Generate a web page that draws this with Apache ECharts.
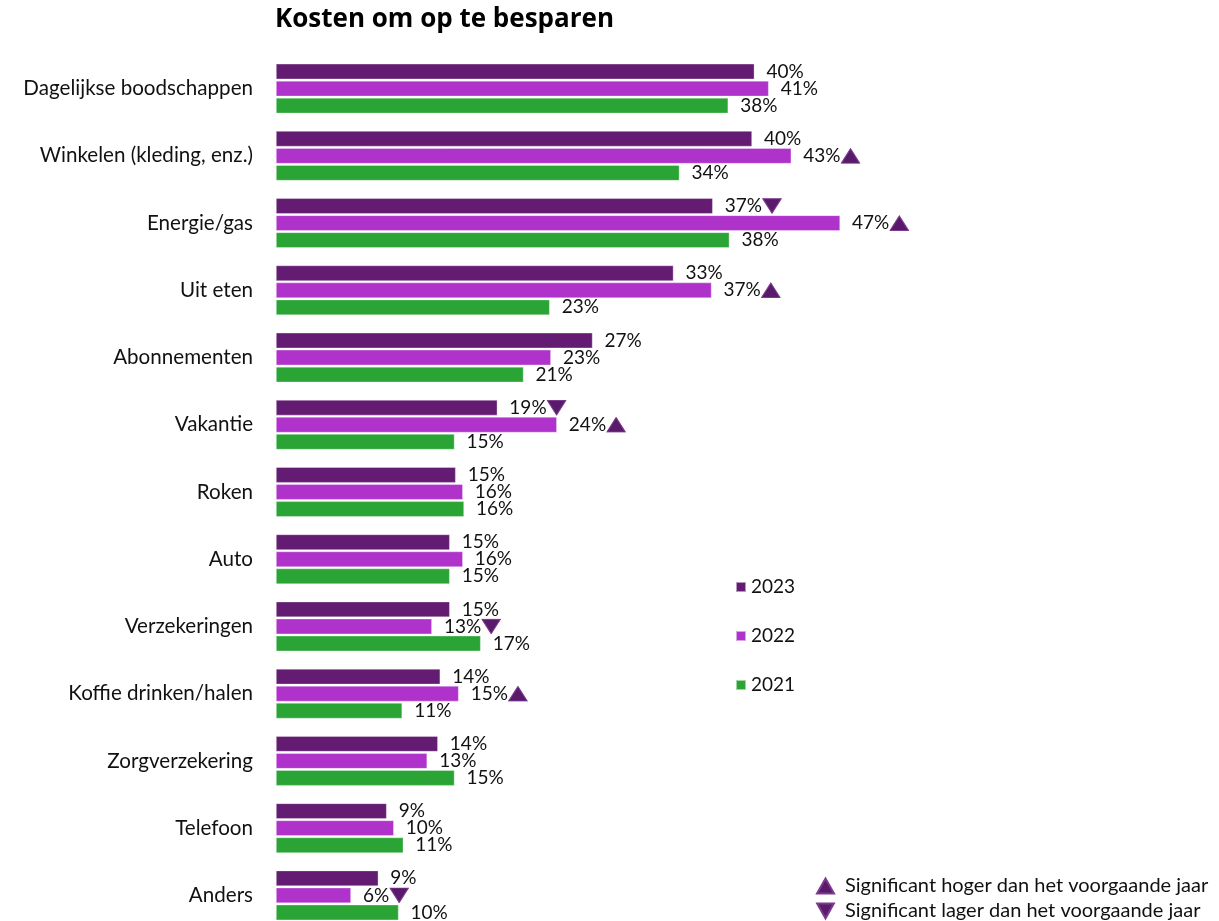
<!DOCTYPE html>
<html>
<head>
<meta charset="utf-8">
<script src="https://cdn.jsdelivr.net/npm/echarts@6/dist/echarts.min.js"></script>
<style>html,body{margin:0;padding:0;background:#fff;overflow:hidden}#c{width:1219px;height:940px}</style>
</head>
<body>
<div id="c"></div>
<script>
const categories = ['Dagelijkse boodschappen','Winkelen (kleding, enz.)','Energie/gas','Uit eten','Abonnementen','Vakantie','Roken','Auto','Verzekeringen','Koffie drinken/halen','Zorgverzekering','Telefoon','Anders'];
const years = ['2023','2022','2021'];
const values2023 = [40.2, 40.0, 36.7, 33.4, 26.6, 18.6, 15.1, 14.6, 14.6, 13.8, 13.6, 9.3, 8.6];
const values2022 = [41.4, 43.3, 47.4, 36.6, 23.1, 23.6, 15.7, 15.7, 13.1, 15.35, 12.7, 9.9, 6.3];
const values2021 = [38.0, 33.9, 38.1, 23.0, 20.8, 15.0, 15.8, 14.6, 17.2, 10.6, 15.0, 10.7, 10.3];
// significance vs previous year: 'up', 'down' or ''
const sig2023 = ['', '', 'down', '', '', 'down', '', '', '', '', '', '', ''];
const sig2022 = ['', 'up', 'up', 'up', '', 'up', '', '', 'down', 'up', '', '', 'down'];
const sig2021 = ['', '', '', '', '', '', '', '', '', '', '', '', ''];
const sigLabels = ['Significant hoger dan het voorgaande jaar', 'Significant lager dan het voorgaande jaar'];

const colors = ['#631C71', '#AF33CB', '#2AA535'];
const markColor = '#5A1A6B';
const svgUp = 'data:image/svg+xml;charset=utf-8,' + encodeURIComponent('<svg xmlns="http://www.w3.org/2000/svg" width="18" height="16"><polygon points="9,0.8 17.3,15.3 0.7,15.3" fill="#5A1A6B" stroke="#7B3A8C" stroke-width="1"/></svg>');
const svgDown = 'data:image/svg+xml;charset=utf-8,' + encodeURIComponent('<svg xmlns="http://www.w3.org/2000/svg" width="18" height="16"><polygon points="0.7,0.7 17.3,0.7 9,15.2" fill="#5A1A6B" stroke="#7B3A8C" stroke-width="1"/></svg>');

const FONT = 'Lato, "Open Sans", sans-serif';

function makeSeries(name, vals, sig, color) {
  return {
    name: name,
    type: 'bar',
    barWidth: 15.5,
    barGap: '10%',
    itemStyle: { color: color, borderColor: 'rgba(255,255,255,0.55)', borderWidth: 0.6 },
    data: vals,
    label: {
      show: true,
      position: 'right',
      distance: 12,
      formatter: p => {
        const s = sig[p.dataIndex];
        const t = '{v|' + Math.round(p.value) + '%}';
        if (s === 'up') return t + '{u| }';
        if (s === 'down') return t + '{d| }';
        return t;
      },
      rich: {
        v: { fontFamily: FONT, fontSize: 19, color: '#111' },
        u: { width: 18, height: 16, padding: [0, 0, 0, 2], backgroundColor: { image: svgUp } },
        d: { width: 18, height: 16, padding: [0, 0, 0, 2], backgroundColor: { image: svgDown } }
      }
    }
  };
}

const chart = echarts.init(document.getElementById('c'), null, { renderer: 'canvas' });
chart.setOption({
  backgroundColor: '#fff',
  animation: false,
  title: {
    text: 'Kosten om op te besparen',
    left: 270, top: 2,
    textStyle: { fontFamily: '"Open Sans", Lato, sans-serif', fontWeight: 'bold', fontSize: 26, color: '#000' }
  },
  legend: [{
    data: years,
    orient: 'vertical',
    left: 730, top: 572,
    padding: 5,
    itemWidth: 10, itemHeight: 10, itemGap: 29,
    icon: 'rect',
    textStyle: { fontFamily: FONT, fontSize: 19, color: '#111', lineHeight: 20 }
  }, {
    data: sigLabels,
    orient: 'vertical',
    left: 816, top: 876,
    height: 60,
    padding: 0,
    itemWidth: 17, itemHeight: 15, itemGap: 5,
    textStyle: { fontFamily: FONT, fontSize: 20, color: '#111', lineHeight: 20, padding: [0, 0, 0, 6] }
  }],
  grid: { left: 276, top: 55, width: 595, height: 874 },
  xAxis: { type: 'value', min: 0, max: 50, show: false },
  yAxis: {
    type: 'category', data: categories, inverse: true,
    axisLine: { show: false }, axisTick: { show: false },
    axisLabel: { margin: 23, fontFamily: FONT, fontSize: 20.6, color: '#111' }
  },
  series: [
    makeSeries(years[0], values2023, sig2023, colors[0]),
    makeSeries(years[1], values2022, sig2022, colors[1]),
    makeSeries(years[2], values2021, sig2021, colors[2]),
    { name: sigLabels[0], type: 'scatter', data: [], symbol: 'triangle', itemStyle: { color: markColor, opacity: 1, borderColor: '#7B3A8C', borderWidth: 1 } },
    { name: sigLabels[1], type: 'scatter', data: [], symbol: 'path://M0,0 L10,0 L5,9 Z', itemStyle: { color: markColor, opacity: 1, borderColor: '#7B3A8C', borderWidth: 1 } }
  ]
});
</script>
</body>
</html>
